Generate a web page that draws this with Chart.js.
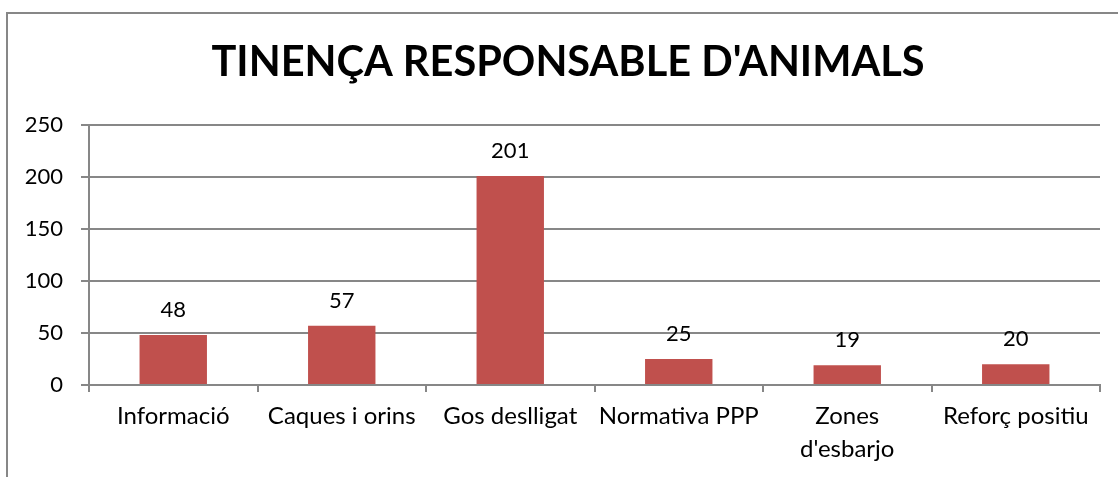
<!DOCTYPE html>
<html>
<head>
<meta charset="utf-8">
<script src="https://cdn.jsdelivr.net/npm/chart.js@4.4.1/dist/chart.umd.min.js"></script>
<style>
  html, body { margin: 0; padding: 0; background: #fff; overflow: hidden; }
  #frame {
    position: absolute; left: 6px; top: 12px;
    width: 1300px; height: 700px;
    border: 2px solid #878787;
  }
  #wrap { position: absolute; left: 0; top: 0; width: 1118px; height: 477px; }
</style>
</head>
<body>
<div id="frame"></div>
<div id="wrap"><canvas id="chart"></canvas></div>
<script>
const categories = ['Informació', 'Caques i orins', 'Gos deslligat', 'Normativa PPP', ['Zones', "d'esbarjo"], 'Reforç positiu'];
const values     = [48, 57, 201, 25, 19, 20];
const yTicks     = [0, 50, 100, 150, 200, 250];
const titleText  = "TINENÇA RESPONSABLE D'ANIMALS";

const FONT = 'Lato, "Open Sans", sans-serif';
const GRID = '#878787';

/* ── title, centred on the outer frame rather than the plot ── */
const frameTitle = {
  id: 'frameTitle',
  afterDraw(chart) {
    const ctx = chart.ctx;
    ctx.save();
    ctx.font = 'bold 41.5px ' + FONT;
    ctx.fillStyle = '#000';
    ctx.textAlign = 'center';
    ctx.textBaseline = 'middle';
    ctx.fillText(titleText, 568, 63);
    ctx.restore();
  }
};

/* ── value labels above bars ── */
const valueLabels = {
  id: 'valueLabels',
  afterDatasetsDraw(chart) {
    const ctx = chart.ctx;
    const meta = chart.getDatasetMeta(0);
    ctx.save();
    ctx.font = '22px ' + FONT;
    ctx.fillStyle = '#000';
    ctx.textAlign = 'center';
    ctx.textBaseline = 'alphabetic';
    meta.data.forEach((bar, i) => {
      ctx.fillText(String(values[i]), bar.x, bar.y - 18);
    });
    ctx.restore();
  }
};

new Chart(document.getElementById('chart'), {
  type: 'bar',
  data: {
    labels: categories,
    datasets: [{
      data: values,
      backgroundColor: '#C0504D',
      borderWidth: 0,
      barPercentage: 0.4,
      categoryPercentage: 1,
    }]
  },
  options: {
    responsive: true,
    maintainAspectRatio: false,
    animation: false,
    layout: { padding: { left: 0, right: 18, top: 125, bottom: 0 } },
    plugins: {
      legend: { display: false },
      tooltip: { enabled: false },
      title: { display: false }
    },
    scales: {
      x: {
        afterFit(scale) { scale.height = 92; },
        grid: { display: true, drawOnChartArea: false, drawTicks: true, tickLength: 7, color: GRID, lineWidth: 2 },
        border: { display: true, color: GRID, width: 2 },
        ticks: {
          color: '#000',
          padding: 8,
          maxRotation: 0,
          autoSkip: false,
          font: { family: FONT, size: 24, lineHeight: '33px' },
        }
      },
      y: {
        min: 0,
        max: 250,
        afterFit(scale) { scale.width = 89; },
        afterBuildTicks(scale) { scale.ticks = yTicks.map(v => ({ value: v })); },
        grid: { color: GRID, lineWidth: 2, tickLength: 8, drawTicks: true },
        border: { display: true, color: GRID, width: 2 },
        ticks: {
          color: '#000',
          padding: 18,
          font: { family: FONT, size: 22 },
        }
      }
    }
  },
  plugins: [valueLabels, frameTitle]
});
</script>
</body>
</html>
